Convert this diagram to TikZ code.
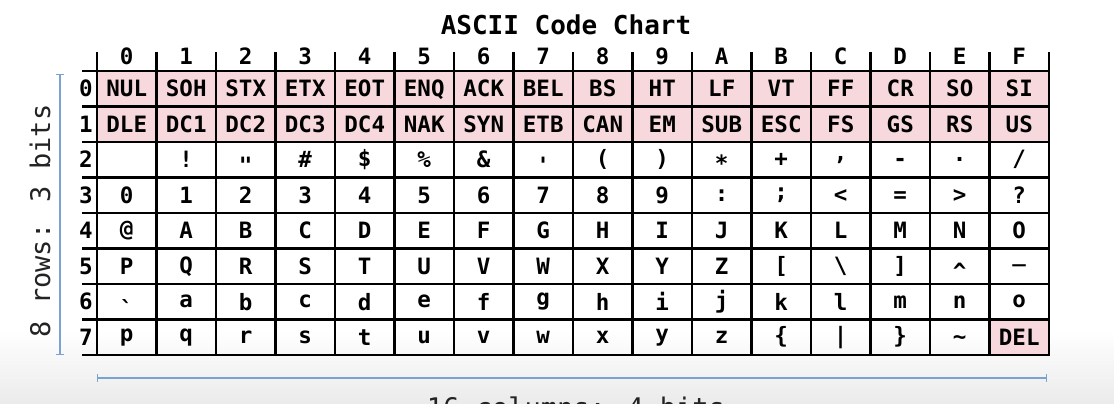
\documentclass[tikz,border=0pt]{standalone}
\usepackage{fontspec}
\usetikzlibrary{arrows.meta}
\newfontfamily\chartfont{DejaVu Sans Mono}
\definecolor{ctrlpink}{RGB}{246,216,221}
\definecolor{bitblue}{RGB}{122,163,209}
\definecolor{labelgray}{RGB}{35,35,35}

\newcount\glyphid
\newdimen\glyphtop
\newdimen\glyphbot
% glyph of a character code, raised so that its ink is centred on the baseline
\newcommand\inkglyph[1]{%
  \glyphid=\XeTeXcharglyph#1\relax
  \glyphtop=\XeTeXglyphbounds2 \glyphid
  \glyphbot=\XeTeXglyphbounds4 \glyphid
  \raisebox{\dimexpr(\glyphbot-\glyphtop)/2\relax}[0pt][0pt]{\char#1\relax}}
% capitals and digits only
\newcommand\capc[1]{\raisebox{-0.3645em}[0pt][0pt]{#1}}

\begin{document}
\begin{tikzpicture}[x=1pt,y=-1pt,
    gridline/.style={line width=2.4pt,line cap=rect},
    cell/.style={inner sep=0pt,text height=0pt,text depth=0pt,
      font=\chartfont\bfseries\fontsize{22.5}{22.5}\selectfont},
    title/.style={inner sep=0pt,anchor=base,
      font=\chartfont\bfseries\fontsize{26}{26}\selectfont},
    bitlabel/.style={inner sep=0pt,anchor=base,text=labelgray,
      font=\chartfont\fontsize{27}{27}\selectfont},
    bitbar/.style={draw=bitblue,line width=1.2pt,{Bar[width=8pt]}-{Bar[width=8pt]}}]
  \useasboundingbox (0,0) rectangle (1114,404);
  \clip (0,0) rectangle (1114,404);
  \fill[white] (0,0) rectangle (1114,404);
  \shade[top color=white,bottom color=black!8] (0,330) rectangle (1114,404);

  \node[title] (title) at (566,34.5) {ASCII Code Chart};

  % control characters
  \fill[ctrlpink] (97,71) rectangle (1049,142);
  \fill[ctrlpink] (989.5,319.5) rectangle (1049,355);

  % grid
  \foreach \i in {0,...,16}
    \draw[gridline] (97+\i*59.5,53) -- (97+\i*59.5,355);
  \foreach \j in {0,...,8}
    \draw[gridline] (83,71+\j*35.5) -- (1049,71+\j*35.5);

  % column and row numbers
  \foreach \c [count=\k from 0] in {0,1,2,3,4,5,6,7,8,9,A,B,C,D,E,F}
    \node[cell] (h\c) at (126.75+\k*59.5,56) {\capc{\c}};
  \foreach \r in {0,...,7}
    \node[cell] (r\r) at (86,88.75+\r*35.5) {\capc{\r}};

  % codes 0--31
  \foreach \n [count=\k from 0] in {NUL,SOH,STX,ETX,EOT,ENQ,ACK,BEL,BS,HT,LF,VT,FF,CR,SO,SI,
      DLE,DC1,DC2,DC3,DC4,NAK,SYN,ETB,CAN,EM,SUB,ESC,FS,GS,RS,US}
  {
    \pgfmathtruncatemacro\col{mod(\k,16)}
    \pgfmathtruncatemacro\row{div(\k,16)}
    \node[cell] (c\k) at (126.75+\col*59.5,88.75+\row*35.5) {\capc{\n}};
  }
  % codes 33--126
  \foreach \k in {33,...,126}
  {
    \pgfmathtruncatemacro\col{mod(\k,16)}
    \pgfmathtruncatemacro\row{div(\k,16)}
    \node[cell] (c\k) at (126.75+\col*59.5,88.75+\row*35.5) {\inkglyph{\k}};
  }
  \node[cell] (c127) at (1019.25,337.25) {\capc{DEL}};

  % sizes
  \coordinate (rowtop) at (60,74);
  \coordinate (rowbot) at (60,355);
  \draw[bitbar] (rowtop) -- (rowbot);
  \node[bitlabel,rotate=90] (rowlabel) at (50,221) {8 rows: 3 bits};
  \coordinate (colleft) at (97,378);
  \coordinate (colright) at (1047,378);
  \draw[bitbar] (colleft) -- (colright);
  \node[bitlabel] (collabel) at (576,417) {16 columns: 4 bits};
\end{tikzpicture}
\end{document}
